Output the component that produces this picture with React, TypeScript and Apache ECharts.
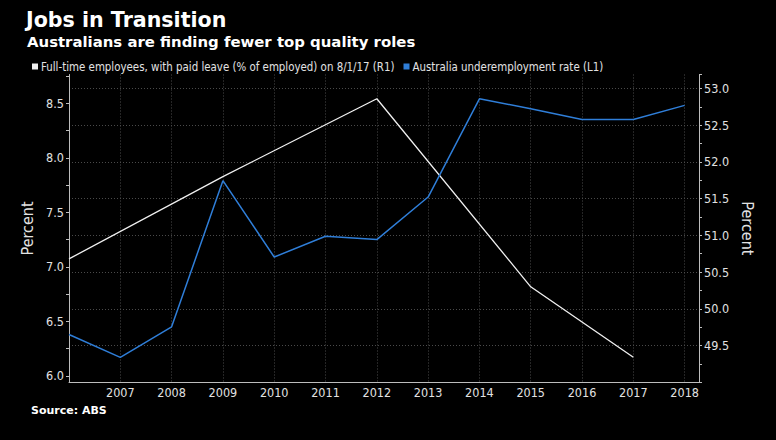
import { useEffect, useRef } from "react";
import * as echarts from "echarts";

// Australia underemployment rate (L1), yearly
const underYears = [2006, 2007, 2008, 2009, 2010, 2011, 2012, 2013, 2014, 2015, 2016, 2017, 2018];
const underemployment = [6.38, 6.17, 6.45, 7.79, 7.09, 7.28, 7.25, 7.64, 8.54, 8.45, 8.35, 8.35, 8.48];

// Full-time employees with paid leave (R1), survey years
const leaveYears = [2006, 2009, 2012, 2015, 2017];
const paidLeave = [50.68, 51.8, 52.86, 50.3, 49.34];

// left axis labels and ticks
const leftLabels = [6.0, 6.5, 7.0, 7.5, 8.0, 8.5];
const leftTicks = [6.0, 6.25, 6.5, 6.75, 7.0, 7.25, 7.5, 7.75, 8.0, 8.25, 8.5, 8.75];

const legendNames = [
  "Full-time employees, with paid leave (% of employed) on 8/1/17 (R1)",
  "Australia underemployment rate (L1)",
];

const BLUE = "#2f7ed8";
const WHITE = "#f0f0f0";
const AXIS = "#bdbdbd";
const GRID = "#4a4a4a";
const LABEL = "#e2e2e2";
const NARROW = "'DejaVu Sans Condensed', 'Liberation Sans Narrow', sans-serif";
const BOLD = "'DejaVu Sans', Verdana, sans-serif";

const App = () => {
  const chartRef = useRef<HTMLDivElement>(null);

  useEffect(() => {
    if (!chartRef.current) return;
    const chart = echarts.init(chartRef.current, undefined, { renderer: "svg" });

    const options = {
      animation: false,
      backgroundColor: "#000000",
      title: [
        {
          text: "Jobs in Transition",
          left: 21,
          top: 4,
          textStyle: { color: "#ffffff", fontSize: 20.6, fontWeight: "bold", fontFamily: BOLD },
        },
        {
          text: "Australians are finding fewer top quality roles",
          left: 22,
          top: 29,
          textStyle: { color: "#ffffff", fontSize: 14.9, fontWeight: "bold", fontFamily: BOLD },
        },
        {
          text: "Source: ABS",
          left: 26,
          top: 400,
          textStyle: { color: "#ffffff", fontSize: 11, fontWeight: "bold", fontFamily: BOLD },
        },
      ],
      legend: {
        left: 27,
        top: 56,
        icon: "rect",
        itemWidth: 6,
        itemHeight: 6,
        itemGap: 9,
        data: legendNames,
        textStyle: { color: LABEL, fontSize: 11.4, fontFamily: NARROW, padding: [0, 0, 0, -2] },
      },
      grid: { left: 69, right: 77, top: 74.5, bottom: 57.7 },
      xAxis: {
        type: "value",
        min: 2006,
        max: 2018.28,
        interval: 1,
        axisLine: { show: true, lineStyle: { color: AXIS, width: 1 } },
        axisTick: { show: false },
        axisLabel: {
          showMinLabel: false,
          showMaxLabel: false,
          color: LABEL,
          fontSize: 12.5,
          fontFamily: NARROW,
          margin: 4,
          formatter: (v: number) => String(Math.round(v)),
        },
        splitLine: {
          show: true,
          showMinLine: false,
          showMaxLine: false,
          lineStyle: { color: GRID, type: [1, 2], width: 1 },
        },
      },
      yAxis: [
        {
          type: "value",
          position: "left",
          min: 5.942,
          max: 8.763,
          name: "Percent",
          nameLocation: "middle",
          nameGap: 32,
          nameRotate: 90,
          nameTextStyle: { color: LABEL, fontSize: 16, fontFamily: NARROW },
          axisLine: { show: true, lineStyle: { color: AXIS, width: 1 } },
          axisTick: { show: true, length: 3, customValues: leftTicks, lineStyle: { color: AXIS } },
          axisLabel: {
            customValues: leftLabels,
            color: LABEL,
            fontSize: 12.5,
            fontFamily: NARROW,
            margin: 5,
            formatter: (v: number) => v.toFixed(1),
          },
          splitLine: { show: false },
        },
        {
          type: "value",
          position: "right",
          min: 49,
          max: 53.19,
          interval: 0.5,
          name: "Percent",
          nameLocation: "middle",
          nameGap: 38,
          nameRotate: -90,
          nameTextStyle: { color: LABEL, fontSize: 16, fontFamily: NARROW },
          axisLine: { show: true, lineStyle: { color: AXIS, width: 1 } },
          axisTick: { show: true, length: 3, lineStyle: { color: AXIS } },
          minorTick: { show: true, splitNumber: 2, length: 3, lineStyle: { color: AXIS } },
          axisLabel: {
            showMinLabel: false,
            showMaxLabel: false,
            color: LABEL,
            fontSize: 12.5,
            fontFamily: NARROW,
            margin: 5,
            formatter: (v: number) => v.toFixed(1),
          },
          splitLine: {
            show: true,
            showMinLine: false,
            showMaxLine: false,
            lineStyle: { color: GRID, type: [1, 2], width: 1 },
          },
        },
      ],
      series: [
        {
          name: legendNames[0],
          type: "line",
          yAxisIndex: 1,
          showSymbol: false,
          itemStyle: { color: WHITE },
          lineStyle: { color: WHITE, width: 1.3 },
          data: leaveYears.map((y, i) => [y, paidLeave[i]]),
          z: 2,
        },
        {
          name: legendNames[1],
          type: "line",
          yAxisIndex: 0,
          showSymbol: false,
          itemStyle: { color: BLUE },
          lineStyle: { color: BLUE, width: 1.5 },
          data: underYears.map((y, i) => [y, underemployment[i]]),
          z: 3,
        },
      ],
    };

    chart.setOption(options);

    return () => {
      chart.dispose();
    };
  }, []);

  return (
    <div
      ref={chartRef}
      style={{ position: "fixed", left: 0, top: 0, width: "776px", height: "440px", background: "#000" }}
    />
  );
};

export default App;
